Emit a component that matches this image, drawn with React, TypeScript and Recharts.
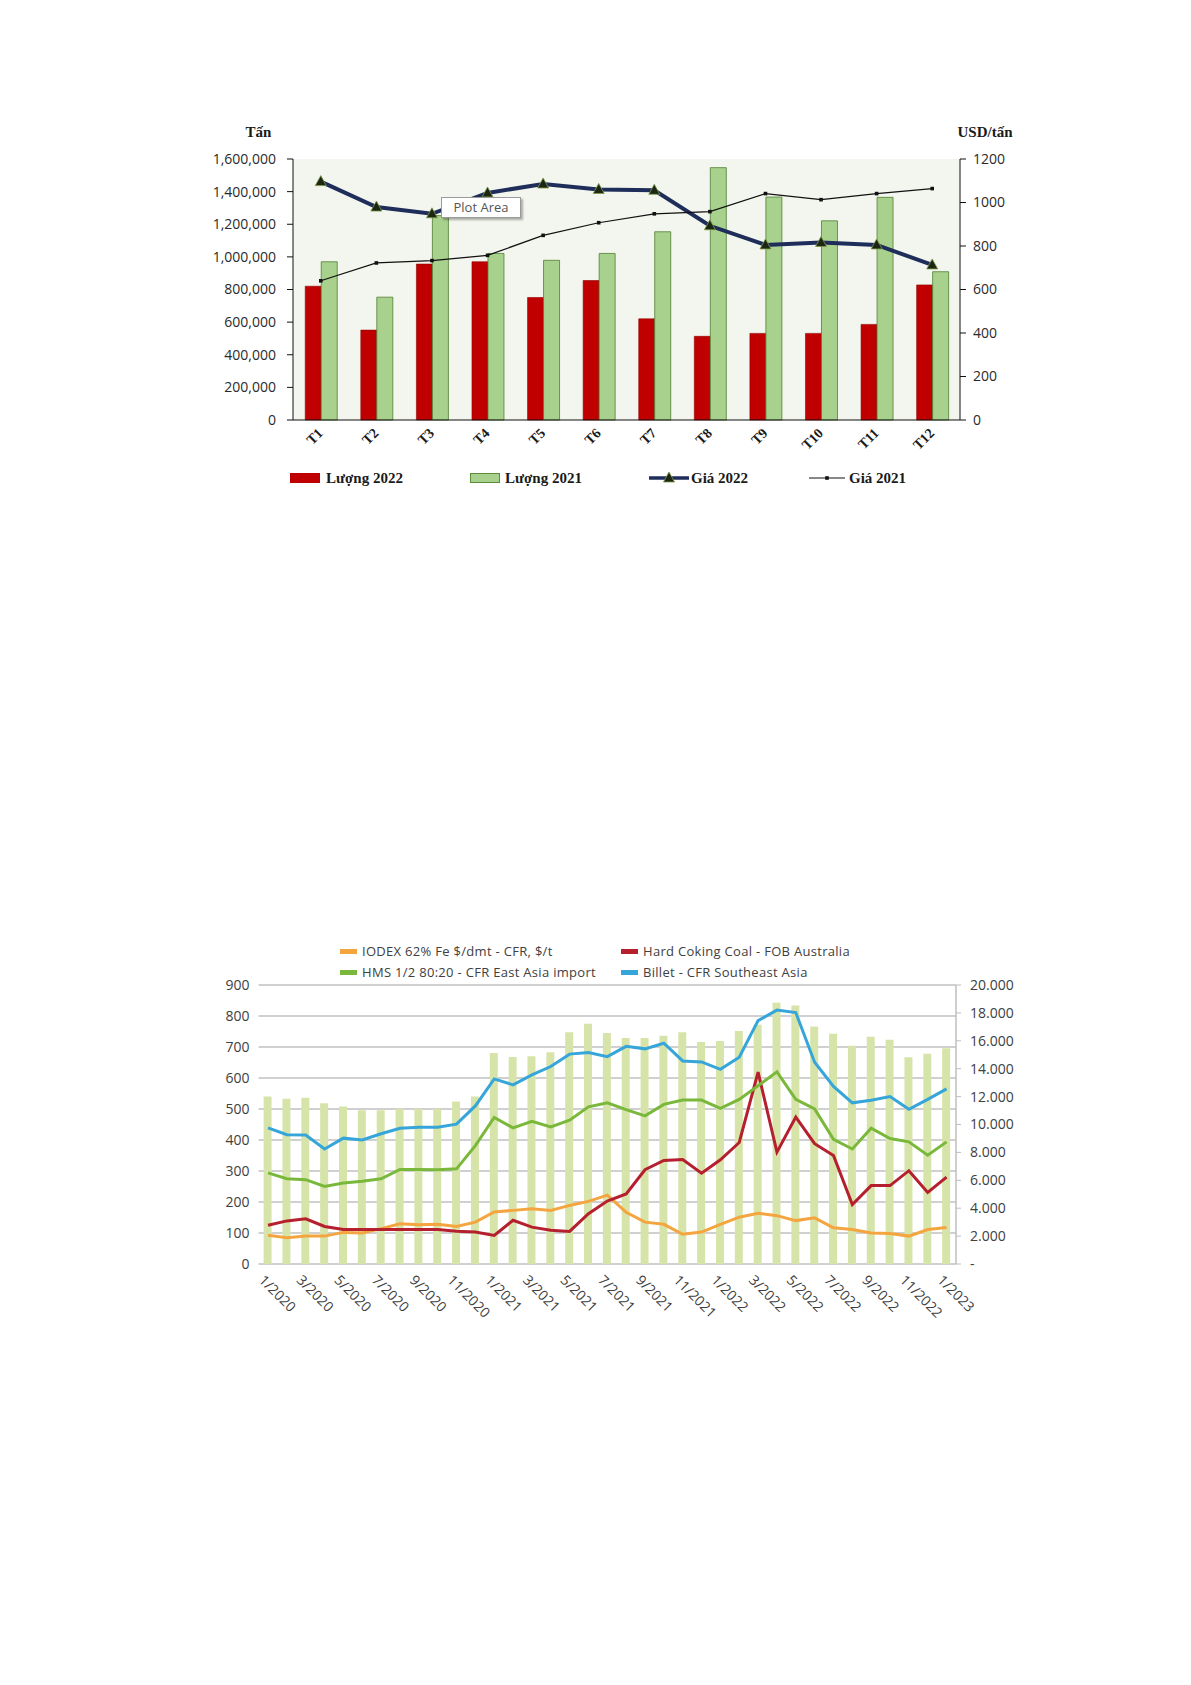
import React from 'react'
import {
  ComposedChart,
  Bar,
  Line,
  XAxis,
  YAxis,
  CartesianGrid,
  Legend,
} from 'recharts'

// ---- chart 1: Lượng / Giá theo tháng ----
const topMonths = ['T1', 'T2', 'T3', 'T4', 'T5', 'T6', 'T7', 'T8', 'T9', 'T10', 'T11', 'T12']
const luong2022 = [820000, 551000, 956000, 970000, 751000, 855000, 620000, 513000, 531000, 531000, 586000, 828000]
const luong2021 = [970000, 753000, 1253000, 1021000, 979000, 1021000, 1154000, 1547000, 1367000, 1221000, 1365000, 909000]
const gia2022 = [1096, 979, 948, 1044, 1085, 1060, 1056, 893, 805, 816, 805, 713]
const gia2021 = [640, 722, 733, 757, 849, 907, 948, 958, 1041, 1013, 1041, 1064]
const leftTicks = [0, 200000, 400000, 600000, 800000, 1000000, 1200000, 1400000, 1600000]
const rightTicks = [0, 200, 400, 600, 800, 1000, 1200]

// ---- chart 2: giá nguyên liệu ----
const months = [
  '1/2020', '2/2020', '3/2020', '4/2020', '5/2020', '6/2020', '7/2020', '8/2020', '9/2020', '10/2020', '11/2020', '12/2020',
  '1/2021', '2/2021', '3/2021', '4/2021', '5/2021', '6/2021', '7/2021', '8/2021', '9/2021', '10/2021', '11/2021', '12/2021',
  '1/2022', '2/2022', '3/2022', '4/2022', '5/2022', '6/2022', '7/2022', '8/2022', '9/2022', '10/2022', '11/2022', '12/2022',
  '1/2023',
]
const steelBars = [
  12000, 11840, 11910, 11530, 11290, 11020, 11020, 11130, 11130, 11130, 11640, 12000,
  15130, 14840, 14890, 15180, 16620, 17220, 16560, 16200, 16200, 16360, 16620, 15910,
  15980, 16710, 17150, 18730, 18530, 17020, 16510, 15640, 16290, 16070, 14820, 15070,
  15470,
]
const iodex = [
  93, 85, 90, 90, 102, 100, 114, 130, 127, 128, 121, 135,
  168, 173, 178, 173, 189, 202, 222, 167, 135, 128, 96, 103,
  128, 151, 164, 156, 140, 149, 117, 111, 100, 98, 90, 111,
  118,
]
const cokingCoal = [
  125, 139, 146, 121, 111, 111, 111, 111, 111, 111, 106, 103,
  92, 141, 119, 109, 105, 162, 203, 226, 304, 334, 337, 293,
  336, 392, 619, 361, 474, 388, 350, 192, 253, 253, 301, 231,
  280,
]
const hms = [
  294, 275, 272, 250, 261, 267, 275, 305, 305, 304, 307, 382,
  473, 439, 460, 442, 464, 507, 520, 498, 478, 515, 529, 529,
  502, 531, 575, 620, 531, 500, 402, 371, 438, 405, 394, 351,
  394,
]
const billet = [
  439, 417, 416, 371, 406, 400, 420, 438, 441, 441, 451, 510,
  597, 578, 610, 637, 677, 682, 669, 702, 694, 712, 655, 652,
  628, 667, 785, 819, 811, 651, 573, 520, 528, 540, 499, 531,
  565,
]
const priceTicks = [0, 100, 200, 300, 400, 500, 600, 700, 800, 900]
const volumeTicks = [0, 2000, 4000, 6000, 8000, 10000, 12000, 14000, 16000, 18000, 20000]

const topData = topMonths.map((m, i) => ({
  m,
  l22: luong2022[i],
  l21: luong2021[i],
  g22: gia2022[i],
  g21: gia2021[i],
}))

const bottomData = months.map((m, i) => ({
  m,
  bar: steelBars[i],
  iodex: iodex[i],
  coal: cokingCoal[i],
  hms: hms[i],
  billet: billet[i],
}))

const serif = '"Liberation Serif", "DejaVu Serif", serif'
const sans = '"Open Sans", "Noto Sans", sans-serif'

function TriangleDot(props: any) {
  const { cx, cy } = props
  if (cx == null || cy == null) return null
  return (
    <path
      d={`M${cx},${cy - 6} L${cx + 5.5},${cy + 4} L${cx - 5.5},${cy + 4} Z`}
      fill="#1c2612"
      stroke="#7d9a4a"
      strokeWidth={0.8}
    />
  )
}

function SquareDot(props: any) {
  const { cx, cy } = props
  if (cx == null || cy == null) return null
  return <rect x={cx - 1.8} y={cy - 1.8} width={3.6} height={3.6} fill="#111" />
}

function TopTick({ x, y, payload }: any) {
  return (
    <g transform={`translate(${x + 3},${y + 14}) rotate(-45)`}>
      <text textAnchor="end" fontFamily={serif} fontWeight={700} fontSize={14} fill="#1a1a1a">
        {payload.value}
      </text>
    </g>
  )
}

function BottomTick({ x, y, payload }: any) {
  return (
    <g transform={`translate(${x - 10},${y + 17}) rotate(45)`}>
      <text textAnchor="start" fontFamily={sans} fontSize={14} fill="#404040">
        {payload.value}
      </text>
    </g>
  )
}

const legendText: React.CSSProperties = {
  position: 'absolute',
  top: 0,
  lineHeight: '24px',
  fontFamily: serif,
  fontWeight: 700,
  fontSize: 15,
  color: '#1a1a1a',
  whiteSpace: 'nowrap',
}

function TopLegend() {
  return (
    <div style={{ position: 'relative', width: 860, height: 24 }}>
      <div style={{ position: 'absolute', left: 110, top: 7, width: 30, height: 10, background: '#c00000' }} />
      <span style={{ ...legendText, left: 146 }}>Lượng 2022</span>
      <div style={{ position: 'absolute', left: 290, top: 7, width: 30, height: 10, background: '#a9d18e', border: '1px solid #5b8c3a', boxSizing: 'border-box' }} />
      <span style={{ ...legendText, left: 325 }}>Lượng 2021</span>
      <svg style={{ position: 'absolute', left: 469, top: 0 }} width={40} height={24}>
        <line x1={0} y1={12} x2={40} y2={12} stroke="#1f2d5a" strokeWidth={3.5} />
        <TriangleDot cx={20} cy={12} />
      </svg>
      <span style={{ ...legendText, left: 511 }}>Giá 2022</span>
      <svg style={{ position: 'absolute', left: 629, top: 0 }} width={36} height={24}>
        <line x1={0} y1={12} x2={36} y2={12} stroke="#111" strokeWidth={1.2} />
        <SquareDot cx={18} cy={12} />
      </svg>
      <span style={{ ...legendText, left: 669 }}>Giá 2021</span>
    </div>
  )
}

const bottomLegendText: React.CSSProperties = {
  position: 'absolute',
  lineHeight: '21px',
  fontFamily: sans,
  fontSize: 13,
  letterSpacing: 0.3,
  color: '#404040',
  whiteSpace: 'nowrap',
}

function BottomLegend() {
  const items = [
    { label: 'IODEX 62% Fe $/dmt - CFR, $/t', color: '#f4a53f', left: 150, top: 2 },
    { label: 'Hard Coking Coal - FOB Australia', color: '#b51f2e', left: 431, top: 2 },
    { label: 'HMS 1/2 80:20 - CFR East Asia import', color: '#7ab83c', left: 150, top: 23 },
    { label: 'Billet - CFR Southeast Asia', color: '#36a5d9', left: 431, top: 23 },
  ]
  return (
    <div style={{ position: 'relative', width: 850, height: 46 }}>
      {items.map((it) => (
        <React.Fragment key={it.label}>
          <div style={{ position: 'absolute', left: it.left, top: it.top + 8, width: 17, height: 5, background: it.color }} />
          <span style={{ ...bottomLegendText, left: it.left + 22, top: it.top }}>{it.label}</span>
        </React.Fragment>
      ))}
    </div>
  )
}

const formatTons = (v: number) => v.toLocaleString('en-US')
const formatVolume = (v: number) => (v === 0 ? '-' : `${v / 1000}.000`)

export default function App() {
  return (
    <div style={{ position: 'relative', width: 1175, height: 1669, background: '#fff' }}>
      {/* chart 1 */}
      <div style={{ position: 'absolute', left: 172, top: 92, width: 860, height: 400 }}>
        <ComposedChart
          width={860}
          height={400}
          data={topData}
          margin={{ top: 59, right: 20, left: 0, bottom: 10 }}
          barCategoryGap="22%"
          barGap={0}
        >
          <CartesianGrid yAxisId="tl" horizontal={false} vertical={false} fill="#f3f6ee" />
          <XAxis
            dataKey="m"
            height={46}
            interval={0}
            tickSize={0}
            tickMargin={0}
            tickLine={false}
            axisLine={{ stroke: '#111' }}
            tick={<TopTick />}
          />
          <XAxis xAxisId="border" dataKey="m" orientation="top" height={0} tick={false} tickLine={false} axisLine={{ stroke: '#8a8a8a' }} />
          <YAxis
            yAxisId="tl"
            width={113}
            domain={[0, 1600000]}
            ticks={leftTicks}
            tickFormatter={formatTons}
            tickSize={6}
            tickMargin={11}
            axisLine={{ stroke: '#111' }}
            tickLine={{ stroke: '#111' }}
            tick={{ fontFamily: sans, fontSize: 14, fill: '#2a2a2a' }}
            label={{ value: 'Tấn', position: 'top', offset: 22, dx: 22, style: { fontFamily: serif, fontWeight: 700, fontSize: 15, fill: '#1a1a1a' } }}
          />
          <YAxis
            yAxisId="tr"
            orientation="right"
            width={60}
            domain={[0, 1200]}
            ticks={rightTicks}
            tickSize={6}
            tickMargin={7}
            axisLine={{ stroke: '#111' }}
            tickLine={{ stroke: '#111' }}
            tick={{ fontFamily: sans, fontSize: 14, fill: '#2a2a2a' }}
            label={{ value: 'USD/tấn', position: 'top', offset: 22, dx: -5, style: { fontFamily: serif, fontWeight: 700, fontSize: 15, fill: '#1a1a1a' } }}
          />
          <Legend verticalAlign="bottom" height={24} wrapperStyle={{ left: 0, width: 860 }} content={() => <TopLegend />} />
          <Bar yAxisId="tl" dataKey="l22" name="Lượng 2022" fill="#c00000" stroke="#8e0000" strokeWidth={0.6} isAnimationActive={false} />
          <Bar yAxisId="tl" dataKey="l21" name="Lượng 2021" fill="#a9d18e" stroke="#4f7d31" strokeWidth={0.8} isAnimationActive={false} />
          <Line
            yAxisId="tr"
            dataKey="g22"
            name="Giá 2022"
            type="linear"
            stroke="#1f2d5a"
            strokeWidth={4}
            dot={<TriangleDot />}
            activeDot={false}
            isAnimationActive={false}
          />
          <Line
            yAxisId="tr"
            dataKey="g21"
            name="Giá 2021"
            type="linear"
            stroke="#111"
            strokeWidth={1.2}
            dot={<SquareDot />}
            activeDot={false}
            isAnimationActive={false}
          />
        </ComposedChart>
        <div
          style={{
            position: 'absolute',
            left: 261,
            top: 97,
            width: 80,
            height: 21,
            boxSizing: 'border-box',
            background: '#fff',
            border: '1px solid #9a9a9a',
            boxShadow: '2px 2px 2px rgba(0,0,0,0.3)',
            fontFamily: sans,
            fontSize: 13,
            lineHeight: '19px',
            color: '#555',
            textAlign: 'center',
          }}
        >
          Plot Area
        </div>
      </div>

      {/* chart 2 */}
      <div style={{ position: 'absolute', left: 182, top: 922, width: 850, height: 400 }}>
        <ComposedChart
          width={850}
          height={400}
          data={bottomData}
          margin={{ top: 9, right: 14, left: 0, bottom: 6 }}
        >
          <CartesianGrid yAxisId="pl" vertical={false} stroke="#c0c0c0" strokeWidth={1.5} />
          <XAxis
            dataKey="m"
            height={60}
            interval={1}
            tickSize={0}
            tickMargin={0}
            tickLine={false}
            axisLine={false}
            tick={<BottomTick />}
          />
          <YAxis
            yAxisId="pl"
            width={68.6}
            domain={[0, 900]}
            ticks={priceTicks}
            axisLine={false}
            tickLine={false}
            tickSize={6}
            tickMargin={3}
            tick={{ fontFamily: sans, fontSize: 14, fill: '#404040' }}
          />
          <YAxis
            yAxisId="vr"
            orientation="right"
            width={70}
            domain={[0, 20000]}
            ticks={volumeTicks}
            tickFormatter={formatVolume}
            axisLine={{ stroke: '#bfbfbf', strokeWidth: 1.5 }}
            tickLine={{ stroke: '#bfbfbf' }}
            tickSize={5}
            tickMargin={9}
            tick={{ fontFamily: sans, fontSize: 14, fill: '#404040' }}
          />
          <Legend verticalAlign="top" height={46} wrapperStyle={{ left: 0, top: 9, width: 850 }} content={() => <BottomLegend />} />
          <Bar yAxisId="vr" dataKey="bar" fill="#d7e4a9" barSize={8} isAnimationActive={false} />
          <Line yAxisId="pl" dataKey="iodex" type="linear" stroke="#f4a53f" strokeWidth={3} dot={false} activeDot={false} isAnimationActive={false} />
          <Line yAxisId="pl" dataKey="coal" type="linear" stroke="#b51f2e" strokeWidth={3} dot={false} activeDot={false} isAnimationActive={false} />
          <Line yAxisId="pl" dataKey="hms" type="linear" stroke="#7ab83c" strokeWidth={3} dot={false} activeDot={false} isAnimationActive={false} />
          <Line yAxisId="pl" dataKey="billet" type="linear" stroke="#36a5d9" strokeWidth={3} dot={false} activeDot={false} isAnimationActive={false} />
        </ComposedChart>
      </div>

      <div style={{ position: 'absolute', left: -8, top: 1674, width: 598, height: 2, background: '#000' }} />
    </div>
  )
}
